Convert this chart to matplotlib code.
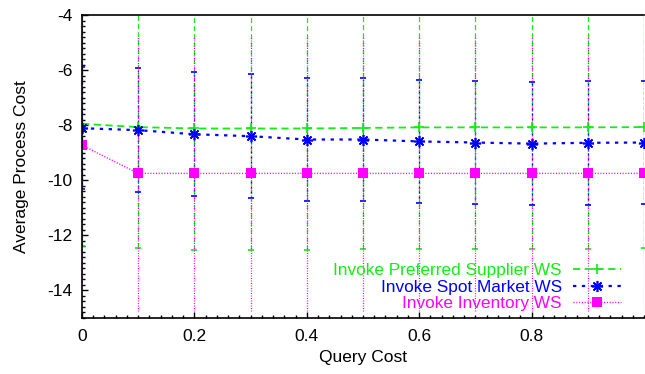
import numpy as np
import matplotlib.pyplot as plt
from matplotlib.ticker import MultipleLocator, FixedLocator

plt.rcParams['font.family'] = ['Liberation Sans', 'DejaVu Sans']
plt.rcParams['font.size'] = 12.5
plt.rcParams['axes.unicode_minus'] = False

# query cost (x) and average process cost per web service
query_cost = [0.0, 0.1, 0.2, 0.3, 0.4, 0.5, 0.6, 0.7, 0.8, 0.9, 1.0]
preferred = [-7.95, -8.07, -8.12, -8.12, -8.12, -8.10, -8.08, -8.08, -8.08, -8.08, -8.07]
preferred_err = [4.45, 4.4, 4.4, 4.4, 4.4, 4.4, 4.4, 4.4, 4.4, 4.4, 4.4]
spot = [-8.11, -8.18, -8.33, -8.40, -8.52, -8.52, -8.59, -8.63, -8.67, -8.64, -8.63]
spot_err = [2.22, 2.24, 2.25, 2.25, 2.24, 2.24, 2.23, 2.24, 2.24, 2.24, 2.24]
inventory = [-8.73, -9.75, -9.75, -9.75, -9.75, -9.75, -9.75, -9.75, -9.75, -9.75, -9.75]
inventory_err = [4.98, 5.0, 5.0, 5.0, 5.0, 5.0, 5.0, 5.0, 5.0, 5.0, 5.0]
x_ticks = [0, 0.2, 0.4, 0.6, 0.8]

labels = ['Invoke Preferred Supplier WS', 'Invoke Spot Market WS', 'Invoke Inventory WS']
colors = ['#11ee11', '#0000ff', '#ff00ff']

fig = plt.figure(figsize=(6.45, 3.74), dpi=100)
ax = fig.add_axes([82 / 645, 1 - 318 / 374, 562 / 645, 303 / 374])

series = [
    (preferred, preferred_err, colors[0], (0, (4, 2.5)), dict(marker='+', ms=7, mew=1.2), 1.3),
    (spot, spot_err, colors[1], (0, (1.5, 2.5)), dict(marker=(8, 2, 0), ms=8, mew=1.2), 1.6),
    (inventory, inventory_err, colors[2], (0, (0.8, 1.2)), dict(marker='s', ms=7, mew=0), 1.0),
]
handles = []
for (vals, err, col, ls, mk, lw), lab in zip(series, labels):
    eb = ax.errorbar(query_cost, vals, yerr=err, color=col, ls=ls, lw=lw,
                     elinewidth=0.9, capsize=2.2, capthick=0.9, label=lab,
                     mfc=col, mec=col, **mk)
    eb[2][0].set_linestyle(ls)
    handles.append(eb[0])

ax.set_xlim(0, 1.0)
ax.set_ylim(-15, -4)
ax.xaxis.set_major_locator(FixedLocator(x_ticks))
ax.xaxis.set_minor_locator(MultipleLocator(0.02))
ax.yaxis.set_major_locator(MultipleLocator(2))
ax.yaxis.set_minor_locator(MultipleLocator(0.2))
ax.set_xticklabels(['%g' % t for t in x_ticks])
ax.tick_params(which='both', direction='in', top=False, right=False, width=1, color='black')
ax.tick_params(which='major', length=4, pad=7)
ax.tick_params(which='minor', length=2.2)
ax.tick_params(axis='x', pad=8)
ax.spines['right'].set_visible(False)
for s in ['left', 'bottom', 'top']:
    ax.spines[s].set_linewidth(1.2)

ax.set_xlabel('Query Cost', labelpad=4)
ax.set_ylabel('Average Process Cost', labelpad=13)

leg = ax.legend(handles, labels, loc='lower right', bbox_to_anchor=(0.972, 0.0),
                frameon=False, markerfirst=False, handlelength=2.8, handletextpad=0.65,
                labelspacing=0.08, borderaxespad=0, labelcolor='linecolor', fontsize=12.4)

fig.savefig('out.png', dpi=100)
